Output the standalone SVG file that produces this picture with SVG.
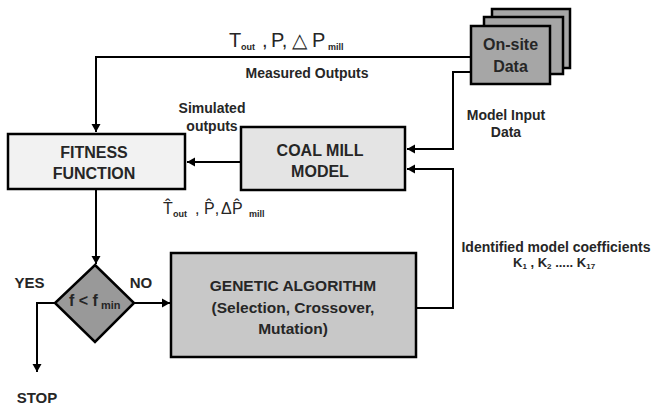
<svg xmlns="http://www.w3.org/2000/svg" width="653" height="407" viewBox="0 0 653 407">
<style>
.b{font-family:"Liberation Sans",Arial,sans-serif;font-weight:bold;fill:#262626}
.r{font-family:"Liberation Sans",Arial,sans-serif;fill:#262626}
.box{stroke:#000;stroke-width:2.5}
.ln{fill:none;stroke:#000;stroke-width:2}
</style>
<defs>
<marker id="ah" markerUnits="userSpaceOnUse" markerWidth="10" markerHeight="10" refX="8" refY="5" orient="auto">
<path d="M0,0.5 L8,5 L0,9.5 Z" fill="#000"/>
</marker>
</defs>
<rect width="653" height="407" fill="#fff"/>
<g id="connectors">
<path class="ln" d="M471,57 H96 V132" marker-end="url(#ah)"/>
<path class="ln" d="M471,72 H453 V149 H407" marker-end="url(#ah)"/>
<path class="ln" d="M416,308 H453 V169 H407" marker-end="url(#ah)"/>
<path class="ln" d="M241,162 H187" marker-end="url(#ah)"/>
<path class="ln" d="M96,189 V264" marker-end="url(#ah)"/>
<path class="ln" d="M134,303 H170" marker-end="url(#ah)"/>
<path class="ln" d="M55,303 H37 V372" marker-end="url(#ah)"/>
</g>
<g id="onsite">
<rect class="box" x="492" y="9" width="78" height="59" fill="#a6a6a6"/>
<rect class="box" x="484" y="17" width="79" height="57" fill="#a6a6a6"/>
<rect class="box" x="471" y="26" width="79" height="58" fill="#a6a6a6"/>
<text class="b" x="510.5" y="50" font-size="16" text-anchor="middle" fill="#3a3a3a">On-site</text>
<text class="b" x="510.5" y="72" font-size="16" text-anchor="middle" fill="#3a3a3a">Data</text>
</g>
<g id="fitness">
<rect class="box" x="8" y="134" width="177" height="55" fill="#f2f2f2"/>
<text class="b" x="94" y="158" font-size="16" text-anchor="middle">FITNESS</text>
<text class="b" x="94" y="179" font-size="16" text-anchor="middle">FUNCTION</text>
</g>
<g id="coalmill">
<rect class="box" x="241" y="127" width="164" height="63" fill="#e4e4e4"/>
<text class="b" x="320" y="156" font-size="16" text-anchor="middle">COAL MILL</text>
<text class="b" x="320" y="177" font-size="16" text-anchor="middle">MODEL</text>
</g>
<g id="decision">
<polygon class="box" points="95,265 134,303 95,342 55,303" fill="#999999"/>
<text class="b" x="69" y="306" font-size="16">f &lt; f<tspan font-size="11" dy="3" dx="3">min</tspan></text>
</g>
<g id="ga">
<rect class="box" x="171" y="253" width="245" height="104" fill="#c8c8c8"/>
<text class="b" x="293" y="291" font-size="15.5" text-anchor="middle">GENETIC  ALGORITHM</text>
<text class="b" x="293" y="313" font-size="15.5" text-anchor="middle">(Selection, Crossover,</text>
<text class="b" x="293" y="334" font-size="15.5" text-anchor="middle">Mutation)</text>
</g>
<g id="labels">
<text class="r" x="229" y="47" font-size="20">T</text>
<text class="b" x="241" y="50" font-size="9">out</text>
<text class="r" x="262" y="47" font-size="20">,</text>
<text class="r" x="271" y="47" font-size="20">P,</text>
<text class="r" x="292" y="47" font-size="20" font-family="'DejaVu Sans',sans-serif">△</text>
<text class="r" x="312" y="47" font-size="20">P</text>
<text class="b" x="328" y="50" font-size="9">mill</text>
<text class="b" x="307" y="78" font-size="14" text-anchor="middle">Measured Outputs</text>
<text class="b" x="506" y="120" font-size="14" text-anchor="middle">Model Input</text>
<text class="b" x="506" y="137" font-size="14" text-anchor="middle">Data</text>
<text class="b" x="212" y="113" font-size="14" text-anchor="middle">Simulated</text>
<text class="b" x="212" y="131" font-size="14" text-anchor="middle">outputs</text>
<text class="r" x="163" y="214" font-size="16">T̂</text>
<text class="b" x="173" y="217" font-size="9">out</text>
<text class="r" x="195" y="214" font-size="16">,</text>
<text class="r" x="204" y="214" font-size="16">P̂,</text>
<text class="r" x="221" y="214" font-size="16">Δ</text>
<text class="r" x="232" y="214" font-size="16">P̂</text>
<text class="b" x="249" y="217" font-size="9">mill</text>
<text class="b" x="556" y="252" font-size="14" text-anchor="middle">Identified model coefficients</text>
<text class="b" x="513" y="267" font-size="13">K<tspan font-size="8" dy="2">1</tspan><tspan dy="-2"> , K</tspan><tspan font-size="8" dy="2">2</tspan><tspan dy="-2"> ..... K</tspan><tspan font-size="8" dy="2">17</tspan></text>
<text class="b" x="29.5" y="288" font-size="15" text-anchor="middle">YES</text>
<text class="b" x="141" y="288" font-size="15" text-anchor="middle">NO</text>
<text class="b" x="37" y="403" font-size="15" text-anchor="middle">STOP</text>
</g>
</svg>
